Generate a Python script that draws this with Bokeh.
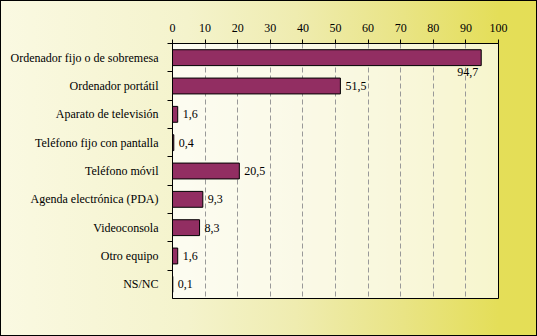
from bokeh.plotting import figure
from bokeh.models import Range1d, FixedTicker, ColumnDataSource
from bokeh.core.properties import value
from bokeh.embed import file_html
from bokeh.resources import INLINE

categories = ["Ordenador fijo o de sobremesa", "Ordenador portátil", "Aparato de televisión",
              "Teléfono fijo con pantalla", "Teléfono móvil", "Agenda electrónica (PDA)",
              "Videoconsola", "Otro equipo", "NS/NC"]
values = [94.7, 51.5, 1.6, 0.4, 20.5, 9.3, 8.3, 1.6, 0.1]
x_ticks = [0, 10, 20, 30, 40, 50, 60, 70, 80, 90, 100]

n = len(categories)
pos = list(range(n))
labels = [f"{v:.1f}".replace(".", ",") for v in values]

FONT = "Liberation Serif"
TXT = "#000000"

p = figure(width=537, height=336, output_backend="svg", toolbar_location=None,
           x_range=Range1d(0, 100), y_range=Range1d(n - 0.5, -0.5),
           x_axis_location="above",
           min_border_left=172, min_border_right=39, min_border_top=43, min_border_bottom=38)

p.border_fill_color = None
p.background_fill_color = "white"
p.background_fill_alpha = 0.7
p.outline_line_color = "black"
p.outline_line_width = 1
p.styles = {
    "background-image": "linear-gradient(to right, #FAF9E2 0%, #F4F3CC 35%, #EFECB0 55%, #E9E485 75%, #E4DE58 93%, #E4DE56 100%)",
    "outline": "1px solid black",
    "outline-offset": "-1px",
}

src = ColumnDataSource(dict(pos=pos, val=values, lab=labels))
p.hbar(y="pos", left=0, right="val", height=0.56, source=src,
       fill_color="#922E62", line_color="black", line_width=1)

# value labels: beside the bar, or below its end when the bar is nearly full
side = [i for i in pos if values[i] <= 85]
below = [i for i in pos if values[i] > 85]
src_side = ColumnDataSource(dict(x=[values[i] for i in side], y=[pos[i] for i in side],
                                 t=[labels[i] for i in side]))
src_below = ColumnDataSource(dict(x=[values[i] for i in below], y=[pos[i] + 0.36 for i in below],
                                  t=[labels[i] for i in below]))
p.text(x="x", y="y", text="t", source=src_side, x_offset=5, text_align="left",
       text_baseline="middle", text_font=value(FONT), text_font_size="12px", text_color=TXT)
p.text(x="x", y="y", text="t", source=src_below, x_offset=-3, text_align="right",
       text_baseline="top", text_font=value(FONT), text_font_size="12px", text_color=TXT)

# x axis (top)
xa = p.xaxis[0]
xa.ticker = FixedTicker(ticks=x_ticks)
xa.major_tick_out = 4
xa.major_tick_in = 0
xa.minor_tick_line_color = None
xa.axis_line_color = "black"
xa.major_tick_line_color = "black"
xa.major_label_text_font = FONT
xa.major_label_text_font_size = "12px"
xa.major_label_text_color = TXT
xa.major_label_standoff = 8

# y axis (left): category boundaries as minor ticks, names at row centres
ya = p.yaxis[0]
ya.ticker = FixedTicker(ticks=pos, minor_ticks=[i - 0.5 for i in pos])
ya.major_tick_out = 0
ya.major_tick_in = 0
ya.minor_tick_out = 5
ya.minor_tick_in = 0
ya.minor_tick_line_color = "black"
ya.axis_line_color = "black"
ya.major_label_overrides = {i: c for i, c in zip(pos, categories)}
ya.major_label_text_font = FONT
ya.major_label_text_font_size = "12px"
ya.major_label_text_color = TXT
ya.major_label_standoff = 9

p.xgrid.grid_line_color = "#999999"
p.xgrid.grid_line_dash = "5 3"
p.ygrid.visible = False

open("out.html", "w").write(file_html(p, INLINE))
